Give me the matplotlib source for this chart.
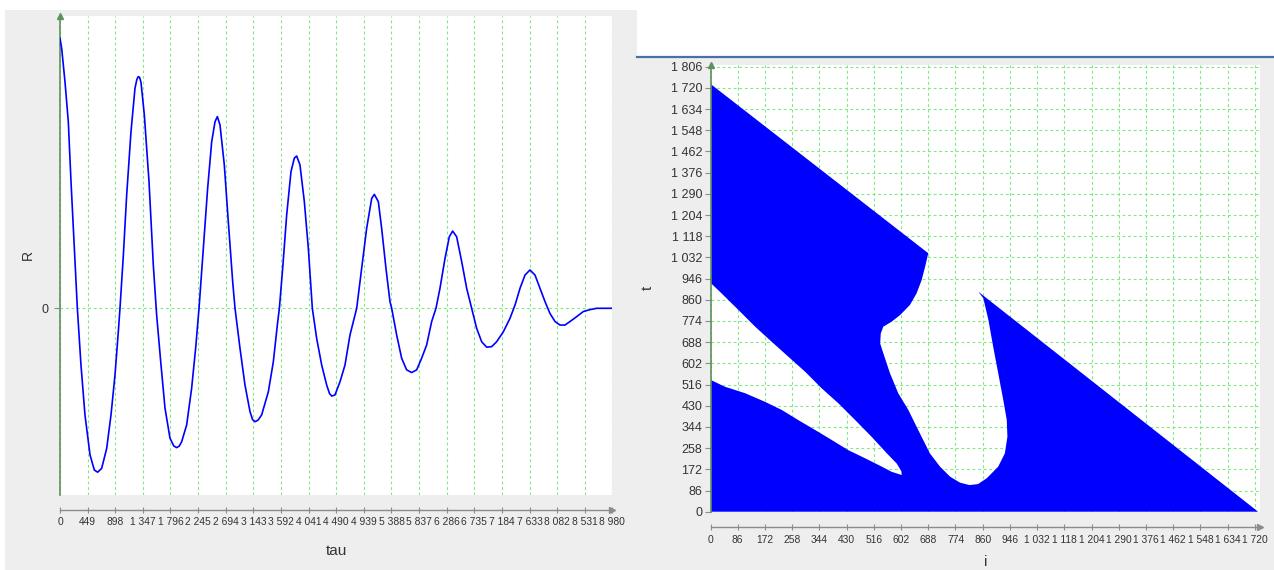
import matplotlib
matplotlib.use("Agg")
import matplotlib.pyplot as plt
import matplotlib.transforms as mtransforms
from matplotlib.patches import Rectangle
from matplotlib.lines import Line2D

# ---------------- data: left chart (R vs tau) ----------------
tau_vals = [0, 27, 81, 135, 179, 233, 282, 341, 406, 488, 558, 612, 677, 759, 829,
            894, 948, 975, 1030, 1084, 1154, 1219, 1250, 1273, 1295, 1317, 1371, 1447, 1517,
            1571, 1642, 1707, 1788, 1850, 1897, 1940, 1978, 2059, 2140, 2205, 2260, 2330, 2400,
            2466, 2520, 2558, 2601, 2671, 2736, 2807, 2845, 2926, 3007, 3089, 3130, 3170,
            3220, 3278, 3387, 3468, 3533, 3566, 3620, 3685, 3755, 3809, 3847, 3901, 3972,
            4037, 4102, 4172, 4254, 4335, 4380, 4416, 4470, 4552, 4633, 4714, 4823, 4904,
            4985, 5067, 5110, 5175, 5229, 5299, 5364, 5392, 5473, 5554, 5635, 5717,
            5798, 5879, 5960, 6042, 6112, 6177, 6259, 6329, 6383, 6448, 6530, 6611,
            6692, 6773, 6855, 6936, 7017, 7098, 7207, 7315, 7397, 7478, 7559, 7640,
            7722, 7803, 7884, 7965, 8047, 8128, 8209, 8291, 8399, 8507, 8616, 8724,
            8980]
r_vals = [1.000, 0.963, 0.839, 0.691, 0.469, 0.222, 0.000, -0.210, -0.395, -0.543,
          -0.599, -0.607, -0.593, -0.519, -0.395, -0.247, -0.087, 0.000, 0.197, 0.420,
          0.654, 0.815, 0.848, 0.858, 0.855, 0.836, 0.716, 0.469, 0.160, -0.025, -0.210, -0.370,
          -0.481, -0.510, -0.516, -0.510, -0.494, -0.432, -0.296, -0.148, 0.000, 0.222, 0.444, 0.617,
          0.691, 0.710, 0.679, 0.531, 0.321, 0.099, 0.000, -0.148, -0.284, -0.383,
          -0.412, -0.420, -0.414, -0.395, -0.309, -0.198, -0.062, 0.000, 0.148, 0.346, 0.506, 0.556,
          0.564, 0.531, 0.395, 0.222, 0.000, -0.111, -0.210, -0.284, -0.315, -0.325, -0.321,
          -0.272, -0.210, -0.099, 0.000, 0.148, 0.296, 0.407, 0.422, 0.395, 0.296,
          0.148, 0.025, 0.000, -0.099, -0.185, -0.228, -0.238, -0.228, -0.185, -0.136,
          -0.049, 0.000, 0.074, 0.185, 0.265, 0.286, 0.265, 0.173, 0.074, 0.000,
          -0.074, -0.124, -0.144, -0.142, -0.124, -0.087, -0.037, 0.012, 0.074, 0.123,
          0.142, 0.123, 0.074, 0.025, -0.019, -0.049, -0.062, -0.062, -0.049, -0.031,
          -0.012, -0.005, 0.000, 0.000]
tau_ticks = [0, 449, 898, 1347, 1796, 2245, 2694, 3143, 3592, 4041, 4490, 4939, 5388,
             5837, 6286, 6735, 7184, 7633, 8082, 8531, 8980]

# ---------------- data: right chart (t vs i, filled region boundary) ----------------
bottom_edge_i = [0, 0, 46, 109, 172, 225, 277, 330, 383, 435, 488, 541, 572, 604]
bottom_edge_t = [0, 535, 507, 481, 446, 413, 372, 332, 291, 250, 217, 183, 162, 149]
band_lower_i = [604, 588, 557, 509, 457, 404, 351, 299, 246, 193, 141, 88, 35, 0]
band_lower_t = [162, 196, 237, 304, 372, 440, 501, 568, 629, 690, 751, 819, 886, 929]
band_top_i = [0, 688]
band_top_t = [1736, 1049]
neck_i = [678, 667, 651, 630, 599, 572, 546, 538, 536, 546, 567, 593, 625, 651, 693,
          725, 757, 788, 818]
neck_t = [994, 940, 886, 839, 798, 771, 751, 724, 683, 643, 562, 481, 413, 345, 237,
          183, 142, 118, 108]
bubble_i = [845, 873, 909, 930, 938, 936, 925, 909, 893, 878, 862, 846]
bubble_t = [112, 136, 183, 237, 304, 372, 453, 562, 670, 778, 866, 893]
hyp_i = [1730]
hyp_t = [0]
i_ticks = [0, 86, 172, 258, 344, 430, 516, 602, 688, 774, 860, 946, 1032, 1118, 1204,
           1290, 1376, 1462, 1548, 1634, 1720]
t_ticks = [0, 86, 172, 258, 344, 430, 516, 602, 688, 774, 860, 946, 1032, 1118, 1204,
           1290, 1376, 1462, 1548, 1634, 1720, 1806]


def fmt(v):
    return f"{v:,}".replace(",", " ")


plt.rcParams["font.family"] = ["Liberation Sans", "DejaVu Sans"]
W, H = 1274, 570
fig = plt.figure(figsize=(W / 100, H / 100), dpi=100)
fig.patch.set_facecolor("white")


def fx(px):
    return px / W


def fy(py):
    return 1 - py / H


GRAY_BG = "#eeeeee"
GRID = "#7fe87f"
AXGREEN = "#5e915e"
AXGRAY = "#8c8c8c"
TXT = "#333333"
BLUE = "#0000ff"
TICKSIZE = 7.4

# panel backgrounds (behind the axes)
fig.patches.append(Rectangle((fx(5), 0), fx(636.7) - fx(5), fy(10), transform=fig.transFigure,
                             facecolor=GRAY_BG, edgecolor="none", zorder=-10))
fig.patches.append(Rectangle((fx(636.7), 0), 1 - fx(636.7), fy(57.5), transform=fig.transFigure,
                             facecolor=GRAY_BG, edgecolor="none", zorder=-10))
fig.lines.append(Line2D([fx(636.7), 1], [fy(56.5), fy(56.5)], transform=fig.transFigure,
                        color="#4a6ea9", lw=1.6, zorder=-5))


def style_axes(ax, offset_pt, xpad, ypad, ysize):
    ax.set_facecolor("white")
    ax.set_axisbelow(True)
    for s in ("top", "right"):
        ax.spines[s].set_visible(False)
    ax.spines["left"].set_color(AXGREEN)
    ax.spines["left"].set_linewidth(1.2)
    ax.spines["bottom"].set_position(("outward", offset_pt))
    ax.spines["bottom"].set_color(AXGRAY)
    ax.spines["bottom"].set_linewidth(1.0)
    ax.tick_params(axis="x", direction="inout", length=4, color=AXGRAY, pad=xpad,
                   labelsize=TICKSIZE, labelcolor=TXT)
    ax.tick_params(axis="y", direction="out", length=4, color=AXGRAY, pad=ypad,
                   labelsize=ysize, labelcolor=TXT)
    ax.grid(True, color=GRID, linestyle=(0, (2.5, 2.5)), linewidth=0.8)
    # axis arrows
    ax.plot([0], [1], marker="^", ms=5, color=AXGREEN, transform=ax.transAxes, clip_on=False)
    tr = mtransforms.offset_copy(ax.transAxes, fig=fig, y=-offset_pt, units="points")
    ax.plot([1], [0], marker=">", ms=5, color=AXGRAY, transform=tr, clip_on=False)


# ---------------- left chart ----------------
ax1 = fig.add_axes([fx(60), fy(495), fx(612.4) - fx(60), fy(16) - fy(495)])
ax1.plot(tau_vals, r_vals, color=BLUE, lw=1.2, zorder=3)
ax1.set_xlim(0, 8980)
ax1.set_ylim(-0.6915, 1.0826)
ax1.set_xticks(tau_ticks)
ax1.set_xticklabels([fmt(v) for v in tau_ticks])
ax1.set_yticks([0])
ax1.set_yticklabels(["0"])
style_axes(ax1, 11.0, 3.0, 4, 9)

fig.text(fx(28), fy(255), "R", rotation=90, ha="center", va="center", fontsize=10, color=TXT)
fig.text(fx(336), fy(551), "tau", ha="center", va="center", fontsize=11, color=TXT)

# ---------------- right chart ----------------
ax2 = fig.add_axes([fx(710.5), fy(511.7), fx(1260) - fx(710.5), fy(65.2) - fy(511.7)])
poly_i = bottom_edge_i + band_lower_i + band_top_i + neck_i + bubble_i + hyp_i
poly_t = bottom_edge_t + band_lower_t + band_top_t + neck_t + bubble_t + hyp_t
ax2.fill(poly_i, poly_t, color=BLUE, lw=0, zorder=2)
ax2.set_xlim(0, 1736)
ax2.set_ylim(0, 1812)
ax2.set_xticks(i_ticks)
ax2.set_xticklabels([fmt(v) for v in i_ticks])
ax2.set_yticks(t_ticks)
ax2.set_yticklabels([fmt(v) for v in t_ticks])
style_axes(ax2, 10.8, 4.0, 2, 9)

fig.text(fx(648), fy(288), "t", rotation=90, ha="center", va="center", fontsize=11, color=TXT)
fig.text(fx(986), fy(562), "i", ha="center", va="center", fontsize=11, color=TXT)

fig.savefig("out.png", dpi=100, facecolor=fig.get_facecolor())
